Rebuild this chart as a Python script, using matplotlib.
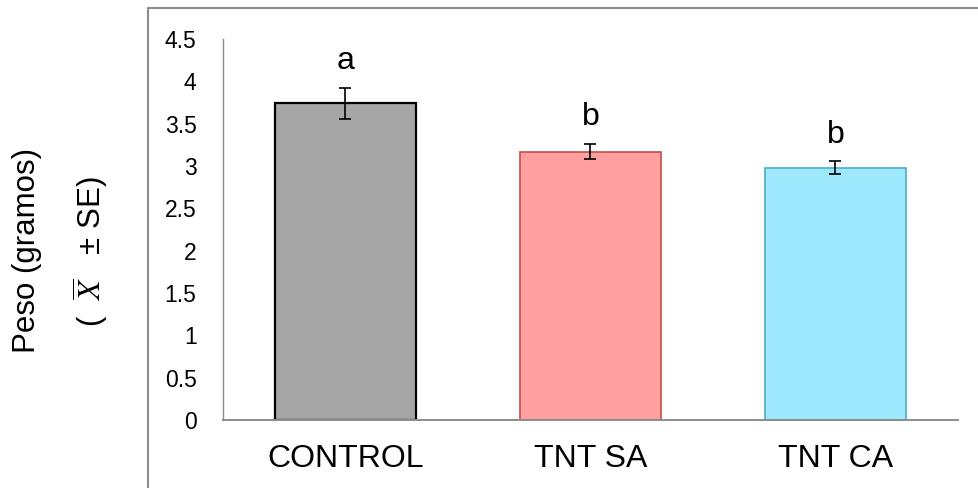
import matplotlib
matplotlib.use("Agg")
import matplotlib.pyplot as plt
from matplotlib.lines import Line2D

plt.rcParams['font.family'] = ['Liberation Sans', 'DejaVu Sans']
plt.rcParams['mathtext.fontset'] = 'stix'

categories = ["CONTROL", "TNT SA", "TNT CA"]
means = [3.74, 3.17, 2.98]
errors = [0.18, 0.09, 0.075]
letters = ["a", "b", "b"]
yticks = [0, 0.5, 1, 1.5, 2, 2.5, 3, 3.5, 4, 4.5]
ytick_labels = ["0", "0.5", "1", "1.5", "2", "2.5", "3", "3.5", "4", "4.5"]

fills = ["#A6A6A6", "#FF9F9F", "#9FE9FD"]
edges = ["#000000", "#C0504D", "#4BACC6"]
edge_w = [1.6, 1.2, 1.2]

W, H = 979, 488
fig = plt.figure(figsize=(W / 100, H / 100), dpi=100)
ax = fig.add_axes([223 / W, 1 - 420 / H, (958 - 223) / W, (420 - 39) / H])

x = list(range(len(categories)))
ax.bar(x, means, width=0.573, color=fills, edgecolor=edges, linewidth=edge_w, zorder=2)
ax.errorbar(x, means, yerr=errors, fmt='none', ecolor='black', elinewidth=1.2,
            capsize=4.3, capthick=1.2, zorder=3)
for xi, m, e, l in zip(x, means, errors, letters):
    ax.text(xi, m + e + 0.22, l, ha='center', va='baseline', fontsize=23)

ax.set_xlim(-0.5, 2.5)
ax.set_ylim(0, 4.5)
ax.set_yticks(yticks)
ax.set_yticklabels(ytick_labels, fontsize=16.5)
ax.set_xticks(x)
ax.set_xticklabels(categories, fontsize=23)
ax.tick_params(axis='y', length=0, pad=19)
ax.tick_params(axis='x', length=0, pad=17)
for s in ['top', 'right']:
    ax.spines[s].set_visible(False)
ax.spines['left'].set_color('#8C8C8C')
ax.spines['left'].set_linewidth(1.0)
ax.spines['bottom'].set_color('#8C8C8C')
ax.spines['bottom'].set_linewidth(1.4)

# outer frame (only top and left visible)
fig.add_artist(Line2D([148 / W, 148 / W, 1.0], [0.0, 1 - 8 / H, 1 - 8 / H],
                      transform=fig.transFigure, color='#8C8C8C', linewidth=1.5))

fig.text(27 / W, 1 - 250 / H, "Peso (gramos)", rotation=90, ha='center', va='center', fontsize=22.5)
fig.text(90 / W, 1 - 252 / H, r"(  $\overline{X}$   ± SE)", rotation=90, ha='center', va='center', fontsize=22.5)

fig.savefig("out.png", dpi=100)
